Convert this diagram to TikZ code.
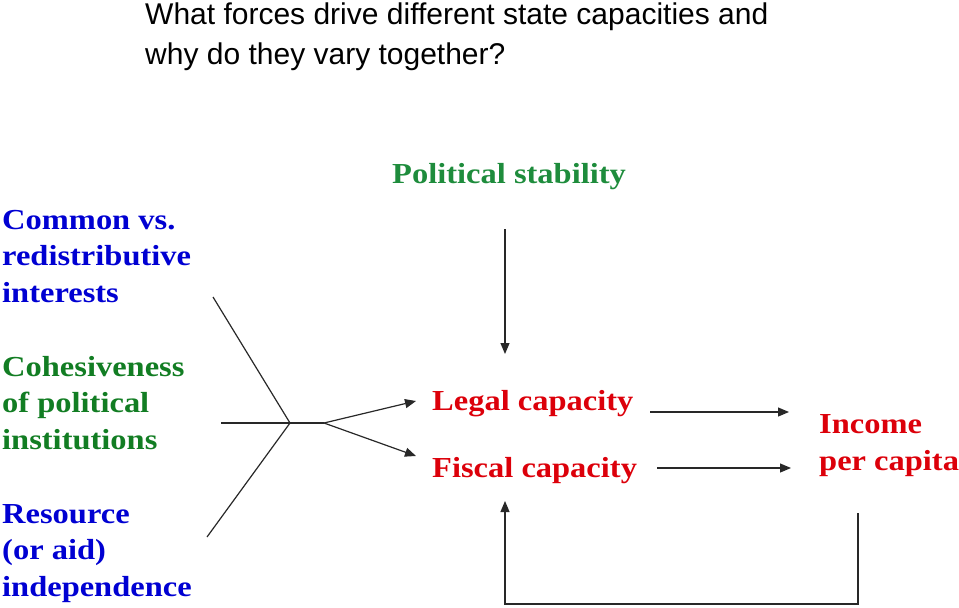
\documentclass[tikz,border=0pt]{standalone}
\usepackage{fontspec}
\setmainfont{Liberation Serif}
\newfontfamily\titlefont{Liberation Sans}
\newfontfamily\labfont[FakeStretch=1.12]{Liberation Serif}
\usetikzlibrary{arrows.meta}
\definecolor{myblue}{RGB}{0,0,210}
\definecolor{mygreen}{RGB}{18,125,35}
\definecolor{mygreen2}{RGB}{30,140,60}
\definecolor{myred}{RGB}{220,0,10}
\definecolor{lineg}{RGB}{40,40,40}
\begin{document}
\begin{tikzpicture}[x=1pt,y=-1pt,
  title/.style={anchor=base west,inner sep=0pt,align=left,font=\titlefont\fontsize{30}{40}\selectfont},
  lab/.style={anchor=base west,inner sep=0pt,align=left,font=\labfont\bfseries\fontsize{29}{36.5}\selectfont},
  conn/.style={draw=lineg,line width=1.2pt},
  arr/.style={conn,-{Triangle[length=11pt,width=9pt]}}
]
\useasboundingbox (0,0) rectangle (959,608);
\node[title] (t) at (145,64) {What forces drive different state capacities and\\why do they vary together?};
\node[lab,text=mygreen2] (ps) at (392,183) {Political stability};
\node[lab,text=myblue] (cv) at (2,302) {Common vs.\\redistributive\\interests};
\node[lab,text=mygreen] (co) at (2,449) {Cohesiveness\\of political\\institutions};
\node[lab,text=myblue] (ri) at (2,596) {Resource\\(or aid)\\independence};
\node[lab,text=myred] (lc) at (432,410) {Legal capacity};
\node[lab,text=myred] (fc) at (432,477) {Fiscal capacity};
\node[lab,text=myred] (inc) at (819,470) {Income\\per capita};
% junction
\coordinate (j) at (290,423);
\coordinate (ja) at (213,297);
\coordinate (jb) at (221,423);
\coordinate (jc) at (207,537);
\coordinate (split) at (324,423);
\coordinate (lcin) at (416,401);
\coordinate (fcin) at (416,456);
\draw[conn] (ja) -- (j) -- (jc);
\draw[conn] (jb) -- (j) -- (split);
\draw[arr] (split) -- (lcin);
\draw[arr] (split) -- (fcin);
% political stability arrow
\coordinate (psa) at (505,229);
\coordinate (psb) at (505,354);
\draw[arr] (psa) -- (psb);
% to income
\coordinate (l1) at (650,412);
\coordinate (l2) at (789,412);
\coordinate (f1) at (657,468);
\coordinate (f2) at (791,468);
\draw[arr] (l1) -- (l2);
\draw[arr] (f1) -- (f2);
% feedback
\coordinate (fb1) at (858,513);
\coordinate (fb2) at (858,604);
\coordinate (fb3) at (505,604);
\coordinate (fb4) at (505,501);
\draw[arr] (fb1) -- (fb2) -- (fb3) -- (fb4);
\end{tikzpicture}
\end{document}
